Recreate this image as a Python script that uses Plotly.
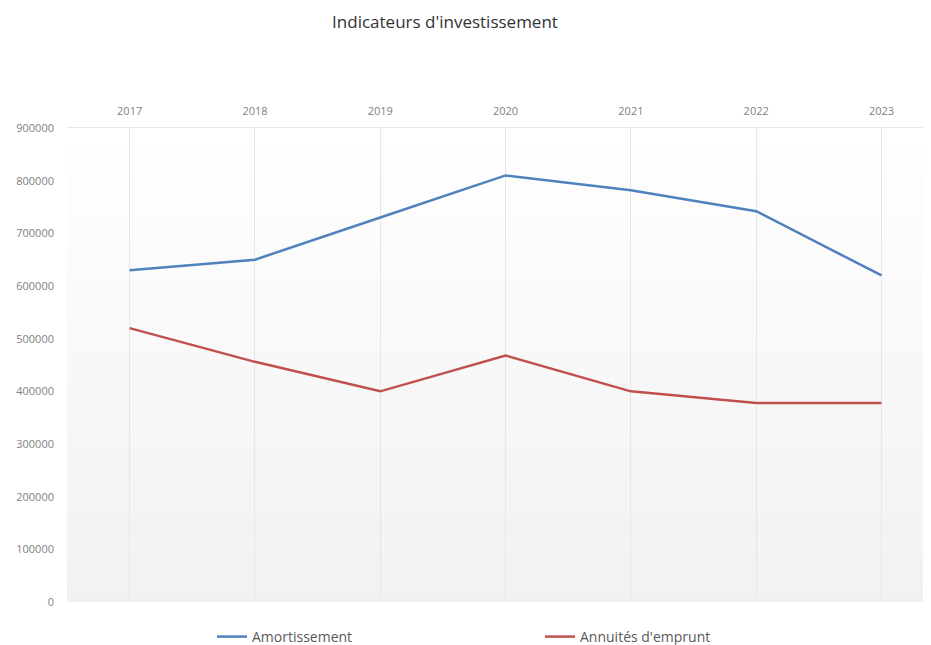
import plotly.graph_objects as go

years = ["2017", "2018", "2019", "2020", "2021", "2022", "2023"]
amortissement = [630000, 650000, 730000, 810000, 782000, 742000, 620000]
annuites = [520000, 456000, 400000, 468000, 400000, 378000, 378000]
y_ticks = [0, 100000, 200000, 300000, 400000, 500000, 600000, 700000, 800000, 900000]

fig = go.Figure()
fig.add_trace(go.Scatter(x=years, y=amortissement, mode="lines", name="Amortissement",
                         line=dict(color="#4F81BD", width=2.5)))
fig.add_trace(go.Scatter(x=years, y=annuites, mode="lines", name="Annuités d'emprunt",
                         line=dict(color="#C0504D", width=2.5)))

# vertical gradient background (white -> light gray)
n = 60
shapes = []
for i in range(n):
    t = (i + 0.5) / n
    g = round(255 - (255 - 241) * t)
    shapes.append(dict(type="rect", xref="x domain", yref="y domain",
                       x0=0, x1=1, y0=1 - (i + 1) / n, y1=1 - i / n,
                       fillcolor=f"rgb({g},{g},{g})", line=dict(width=0), layer="below"))

W, H = 923, 637
fig.update_layout(
    width=W, height=H,
    margin=dict(l=59, r=0, t=120, b=43, autoexpand=False),
    paper_bgcolor="white", plot_bgcolor="rgba(0,0,0,0)",
    shapes=shapes,
    title=dict(text="Indicateurs d'investissement", x=437 / W, xanchor="center",
               y=1 - 14 / H, yanchor="middle",
               font=dict(family="Open Sans", size=17, color="#333333")),
    showlegend=True,
    legend=dict(orientation="h", x=(204 - 59) / 864, xanchor="left",
                y=-35 / 474, yanchor="middle",
                entrywidth=283, entrywidthmode="pixels",
                font=dict(family="Open Sans", size=14, color="#595959"),
                bgcolor="rgba(0,0,0,0)"),
    xaxis=dict(side="top", range=[-0.5, 6.395], showgrid=True, gridcolor="#e6e6e6",
               gridwidth=1, showline=True, linecolor="#e6e6e6",
               ticks="outside", ticklen=8, tickcolor="rgba(0,0,0,0)",
               tickfont=dict(family="Open Sans", size=11, color="#7f7f7f"), zeroline=False),
    yaxis=dict(range=[0, 900000], tickvals=y_ticks, ticktext=[str(v) for v in y_ticks],
               showgrid=False, zeroline=False, showline=False, ticks="",
               ticklabelstandoff=12,
               tickfont=dict(family="Open Sans", size=11, color="#7f7f7f")),
)

fig.write_html("out.html")
